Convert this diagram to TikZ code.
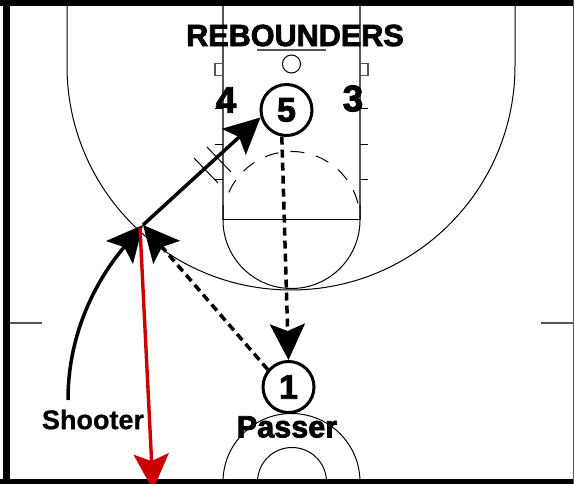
\documentclass[tikz,border=0pt]{standalone}
\usepackage{fontspec}
\setmainfont{Liberation Sans}
\newfontfamily\fatfont[FakeBold=2.5]{Liberation Sans Bold}
\newfontfamily\midfont[FakeBold=0.8]{Liberation Sans Bold}
\usetikzlibrary{arrows.meta}
\definecolor{redarrow}{HTML}{CC0000}
\definecolor{courtgray}{HTML}{555555}
\tikzset{
  court/.style={line width=1pt,draw=black},
  courtg/.style={line width=1.2pt,draw=courtgray},
  bighead/.style={-{Stealth[length=36pt,width=35pt,inset=7pt]}},
  move/.style={line width=3.5pt,bighead},
  pass/.style={line width=3.5pt,bighead,dash pattern=on 8pt off 5pt},
  player/.style={circle,draw=black,fill=white,line width=3pt,minimum size=51pt,inner sep=0pt,font=\fatfont\fontsize{34}{34}\selectfont},
  lab/.style={inner sep=0pt,text=black,font=\fatfont\fontsize{30.6}{31}\selectfont},
}
\begin{document}
\begin{tikzpicture}[x=1pt,y=-1pt]
\useasboundingbox (0,0) rectangle (574,484);
\fill[white] (0,0) rectangle (574,484);
% three point line
\draw[court] (67,4) -- (67,66) arc[start angle=180,end angle=0,radius=224] -- (515,4);
% lane
\draw[courtg] (223,4) -- (223,220);
\draw[courtg] (360,4) -- (360,220);
\draw[court] (223,220) -- (360,220);
\draw[court] (223,205) -- (223,220) arc[start angle=180,end angle=0,radius=68.5] -- (360,205);
\draw[court,dash pattern=on 14pt off 12pt] (291.5,220) ++(-14:68.5) arc[start angle=-14,end angle=-166,radius=68.5];
% backboard, rim
\draw[courtg] (257,50) -- (326,50);
\draw[court] (291.5,64) circle[radius=9];
% lane marks
\draw[courtg] (215,63.5) rectangle (223,75.5);
\draw[courtg] (360,63.5) rectangle (368,75.5);
\foreach \yy in {109,145,180}{
  \draw[court] (215,\yy) -- (223,\yy);
  \draw[court] (360,\yy) -- (368,\yy);
}
\draw[court] (207,147) -- (231,172);
\draw[court] (194,158) -- (218,183);
% half court marks
\draw[courtg] (10,323) -- (42,323);
\draw[courtg] (541,323) -- (573,323);
% bottom arcs
\draw[court] (223,482) arc[start angle=180,end angle=360,radius=68.5];
\draw[court] (257.5,482) arc[start angle=180,end angle=360,radius=34.5];
% border
\fill[black] (0,0) rectangle (574,6);
\fill[black] (3,0) rectangle (10,484);
\fill[black] (0,479) rectangle (574,484);
\draw[line width=1pt,draw=courtgray] (573.5,0) -- (573.5,484);
% players and labels
\node[player] (p5) at (286.5,110) {5};
\node[player] (p1) at (288.5,387) {1};
\node[lab] (reb) at (295,35.5) {REBOUNDERS};
\node[lab,font=\fatfont\fontsize{37}{37}\selectfont] (n4) at (226,100) {4};
\node[lab,font=\fatfont\fontsize{37}{37}\selectfont] (n3) at (353,98.5) {3};
\node[inner sep=0pt,font=\midfont\fontsize{27}{27}\selectfont] (sh) at (93,419.5) {Shooter};
\node[lab] (pa) at (287,427) {Passer};
% connectors
\coordinate (cut) at (143,225);
\coordinate (cutstart) at (68,400);
\coordinate (redend) at (153,490);
\coordinate (redstart) at (140,228);
\draw[move] (cutstart) .. controls (68,320) and (108,266) .. (cut);
\draw[move] (cut) -- (p5.196);
\draw[pass] (p1.140) -- (cut);
\draw[pass] (p5.260) -- (p1.north);
\draw[line width=3.4pt,draw=redarrow,-{Stealth[length=36pt,width=35pt,inset=7pt,fill=redarrow]}] (redstart) -- (redend);
\end{tikzpicture}
\end{document}
